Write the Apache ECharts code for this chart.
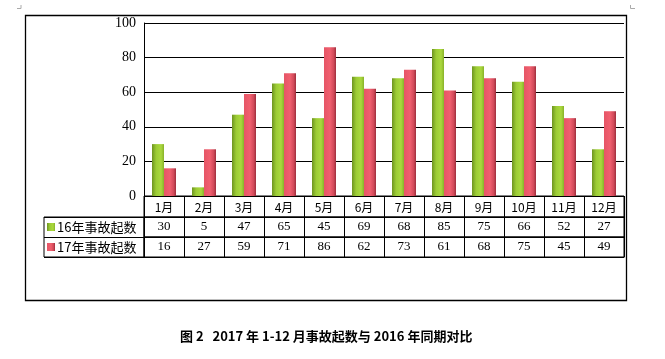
<!DOCTYPE html>
<html><head><meta charset="utf-8">
<script src="https://cdn.jsdelivr.net/npm/echarts@6/dist/echarts.min.js"></script>
<style>html,body{margin:0;padding:0;background:#fff}#c{width:665px;height:359px}</style>
</head><body><div id="c"></div>
<script>
var months = ['1月','2月','3月','4月','5月','6月','7月','8月','9月','10月','11月','12月'];
var seriesNames = ['16年事故起数','17年事故起数'];
var y2016 = [30,5,47,65,45,69,68,85,75,66,52,27];
var y2017 = [16,27,59,71,86,62,73,61,68,75,45,49];
var yTicks = {min:0, max:100, interval:20};
var titleText = '图 2   2017 年 1-12 月事故起数与 2016 年同期对比';

var serif = 'Liberation Serif';
var cjk = 'Noto Sans CJK SC';
var chart = echarts.init(document.getElementById('c'), null, {renderer:'canvas'});
var greenGrad = new echarts.graphic.LinearGradient(0,0,1,0,[
  {offset:0,color:'#6e9420'},{offset:0.35,color:'#9ccc34'},{offset:0.75,color:'#aad83e'},{offset:1,color:'#88b22a'}]);
var redGrad = new echarts.graphic.LinearGradient(0,0,1,0,[
  {offset:0,color:'#e65566'},{offset:0.5,color:'#f0606f'},{offset:0.8,color:'#d24a5a'},{offset:1,color:'#9e2e3c'}]);

function rowGrid(top,h){return {left:144,width:480,top:top,height:h,show:true,borderColor:'#000',borderWidth:1,backgroundColor:'transparent'};}
function rowX(idx,data,font,size){
  return {gridIndex:idx,type:'category',data:data,position:'bottom',
    axisLine:{show:true,lineStyle:{color:'#000',width:1}},axisTick:{show:false},
    splitLine:{show:true,interval:0,lineStyle:{color:'#000',width:1}},
    axisLabel:{inside:true,interval:0,margin:10,verticalAlign:'middle',color:'#000',fontFamily:font,fontSize:size}};
}
var option = {
  animation:false,
  title:{text:titleText,left:175,top:325,textStyle:{fontFamily:cjk,fontWeight:'bold',fontSize:13,color:'#000'}},
  legend:{data:seriesNames,orient:'vertical',left:47,top:220,padding:0,itemWidth:8,itemHeight:8,itemGap:6,icon:'rect',
    textStyle:{fontFamily:cjk,fontSize:13,color:'#000',lineHeight:14,padding:[0,0,0,-3]}},
  grid:[
    {left:144,width:480,top:23,height:173},
    rowGrid(196,21),
    rowGrid(217,20),
    rowGrid(237,20),
    {left:44,width:100,top:217,height:40,show:true,borderColor:'#000',borderWidth:1,backgroundColor:'transparent'}
  ],
  xAxis:[
    {gridIndex:0,type:'category',data:months,axisLine:{show:false},axisTick:{show:false},axisLabel:{show:false}},
    rowX(1,months,cjk,12),
    rowX(2,y2016.map(String),serif,13),
    rowX(3,y2017.map(String),serif,13),
    {gridIndex:4,type:'value',show:false}
  ],
  yAxis:[
    {gridIndex:0,type:'value',min:yTicks.min,max:yTicks.max,interval:yTicks.interval,
      axisLine:{show:true,lineStyle:{color:'#000',width:1}},axisTick:{show:false},
      splitLine:{show:true,lineStyle:{color:'#000',width:1.2}},
      axisLabel:{color:'#000',fontFamily:serif,fontSize:14,margin:8}},
    {gridIndex:1,type:'value',show:false},
    {gridIndex:2,type:'value',show:false},
    {gridIndex:3,type:'value',show:false},
    {gridIndex:4,type:'category',data:['a','b'],axisLine:{show:false},axisTick:{show:false},axisLabel:{show:false},
      splitLine:{show:true,interval:0,lineStyle:{color:'#000',width:1}}}
  ],
  series:[
    {name:seriesNames[0],type:'bar',xAxisIndex:0,yAxisIndex:0,data:y2016,barWidth:12,barGap:'0%',itemStyle:{color:greenGrad}},
    {name:seriesNames[1],type:'bar',xAxisIndex:0,yAxisIndex:0,data:y2017,barWidth:12,barGap:'0%',itemStyle:{color:redGrad}}
  ],
  graphic:[
    {type:'rect',shape:{x:25.5,y:15.5,width:601,height:285},style:{fill:'none',stroke:'#000',lineWidth:1.3},silent:true},
    {type:'polyline',shape:{points:[[21,5],[21,8.5],[17,8.5]]},style:{stroke:'#aaa',lineWidth:1,fill:'none'}},
    {type:'polyline',shape:{points:[[630.5,5],[630.5,8.5],[635,8.5]]},style:{stroke:'#aaa',lineWidth:1,fill:'none'}}
  ]
};
chart.setOption(option);
</script></body></html>
